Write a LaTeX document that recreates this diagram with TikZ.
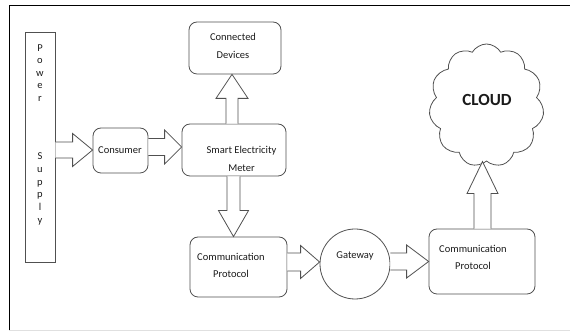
\documentclass[tikz,border=0pt]{standalone}
\usepackage{fontspec}
\setmainfont{Carlito}
\usetikzlibrary{shapes.symbols,calc}
\definecolor{ln}{HTML}{505050}
\definecolor{tx}{HTML}{1A1A1A}
\tikzset{
  box/.style={draw=ln,line width=0.8pt,rounded corners=8pt,inner sep=0pt},
  sqbox/.style={draw=ln,line width=0.8pt,inner sep=0pt},
  lbl/.style={text=tx,font=\fontsize{10.5}{17.5}\selectfont,align=center,inner sep=0pt},
  barrow/.style={draw=ln,line width=0.8pt,fill=white,line join=miter},
  frame/.style={draw=black,line width=1pt}
}
\newcommand\HArr[6]{\draw[barrow] let \p1=(#1.east), \p2=(#2.west) in
  (\x1,#3pt+#4pt) -- (\x2-#6pt,#3pt+#4pt) -- (\x2-#6pt,#3pt+#5pt) -- (\x2,#3pt)
  -- (\x2-#6pt,#3pt-#5pt) -- (\x2-#6pt,#3pt-#4pt) -- (\x1,#3pt-#4pt);}
\newcommand\VUp[6]{\draw[barrow] let \p1=(#1.north), \p2=(#2.south) in
  (#3pt-#4pt,\y1) -- (#3pt-#4pt,\y2-#6pt) -- (#3pt-#5pt,\y2-#6pt) -- (#3pt,\y2)
  -- (#3pt+#5pt,\y2-#6pt) -- (#3pt+#4pt,\y2-#6pt) -- (#3pt+#4pt,\y1);}
\newcommand\VDown[6]{\draw[barrow] let \p1=(#1.south), \p2=(#2.north) in
  (#3pt-#4pt,\y1) -- (#3pt-#4pt,\y2+#6pt) -- (#3pt-#5pt,\y2+#6pt) -- (#3pt,\y2)
  -- (#3pt+#5pt,\y2+#6pt) -- (#3pt+#4pt,\y2+#6pt) -- (#3pt+#4pt,\y1);}
\begin{document}
\begin{tikzpicture}[x=1pt,y=1pt]
\useasboundingbox (0,0) rectangle (570,331);
% frame
\coordinate (f1) at (9,0);
\coordinate (f2) at (9,325);
\coordinate (f3) at (570,325);
\draw[frame] (f1) -- (f2) -- (f3);
\coordinate (b1) at (9,1);
\coordinate (b2) at (570,1);
\draw[black!12,line width=0.8pt] (b1) -- (b2);
% power supply
\node[sqbox,minimum width=30pt,minimum height=230pt] (ps) at (40,184) {};
\node[lbl,font=\fontsize{10.5}{12.6}\selectfont] (pw) at (40,258) {P\\o\\w\\e\\r};
\node[lbl,font=\fontsize{10.5}{12.8}\selectfont] (sp) at (40,142) {S\\u\\p\\p\\l\\y};
% consumer
\node[box,minimum width=55pt,minimum height=45pt] (cons) at (120.5,180.5) {};
\node[lbl] (constx) at (120,181) {Consumer};
% smart meter
\node[box,minimum width=104pt,minimum height=52pt] (sem) at (234,181) {};
\node[lbl] (semtx) at (241.5,172) {Smart Electricity\\Meter};
% connected devices
\node[box,minimum width=92pt,minimum height=52pt] (cd) at (235,283) {};
\node[lbl] (cdtx) at (233,285) {Connected\\Devices};
% comm protocol 1
\node[box,minimum width=97pt,minimum height=60pt] (cp1) at (238.5,64) {};
\node[lbl] (cp1tx) at (231,65.5) {Communication\\Protocol};
% gateway
\node[draw=ln,line width=0.8pt,circle,minimum size=70pt,inner sep=0pt] (gw) at (355,67) {};
\node[lbl] (gwtx) at (355,75) {Gateway};
% comm protocol 2
\node[box,minimum width=106pt,minimum height=65pt] (cp2) at (482,69.5) {};
\node[lbl] (cp2tx) at (473,73.5) {Communication\\Protocol};
% cloud
\node[cloud,draw=ln,line width=0.8pt,cloud puffs=11,cloud puff arc=120,aspect=0.94,
  minimum width=115pt,minimum height=123pt,inner sep=0pt] (cl) at (486.5,225.5) {};
\node[text=tx,font=\fontsize{17}{17}\selectfont\bfseries,inner sep=0pt] (cltx) at (487,231) {CLOUD};
% block arrows
\HArr{ps}{cons}{181}{8}{16.5}{20}
\HArr{cons}{sem}{184}{8.5}{17}{17}
\VUp{sem}{cd}{232}{6}{16}{24}
\VDown{sem}{cp1}{233.5}{6.5}{15}{26}
\HArr{cp1}{gw}{69}{9}{16.5}{19}
\HArr{gw}{cp2}{69.5}{8.5}{16.5}{22}
\VUp{cp2}{cl}{482.5}{8.5}{15.5}{32}
\end{tikzpicture}
\end{document}
